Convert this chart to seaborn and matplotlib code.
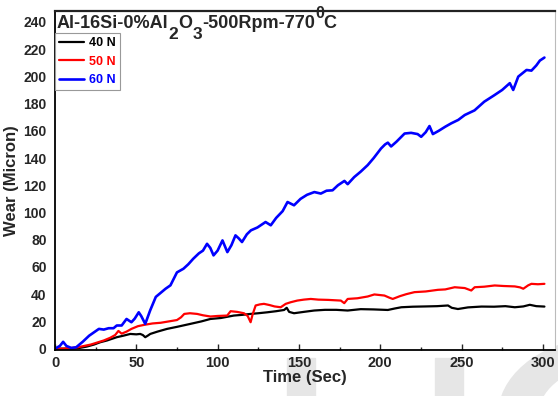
import numpy as np
import pandas as pd
import seaborn as sns
import matplotlib.pyplot as plt
from matplotlib.patches import Rectangle, Wedge
from matplotlib.ticker import MultipleLocator

# Wear curves (time in sec, wear in micron)
t_40 = [0, 5, 11, 15, 19.5, 24, 27.8, 32, 38, 42, 46.3, 50, 52.4, 54, 55.5,
        57, 58.6, 63, 68.9, 75, 83.3, 90, 95.6, 102, 110, 115, 120.3, 125, 130.6, 136,
        140.9, 142.5, 144, 147, 153, 159.4, 166, 173, 180, 188, 196, 204.7, 209, 213, 220,
        228, 235, 241.7, 244, 247.8, 254, 262.3, 270, 277, 282.8, 288, 292, 296, 301]
w_40 = [0, 0, 0, 0.5, 1.5, 3, 4.7, 6, 8.4, 9.5, 10.8, 10.5, 10.8, 10, 8.4,
        9.5, 10.8, 12.5, 14.5, 16, 18.2, 20, 21.8, 22.5, 24.3, 24.8, 25.5, 26, 26.7, 27.5,
        28.4, 30, 27, 26, 27, 28, 28.5, 28.5, 28, 29, 28.8, 28.4, 29.5, 30.4, 30.8,
        31, 31.2, 31.7, 30, 29.1, 30.3, 30.9, 30.8, 31.2, 30.4, 31, 32.2, 31.2, 30.9]

t_50 = [0, 5, 10, 14, 18, 22, 26, 30, 34, 37, 39, 41, 44, 47, 51,
        55, 60, 65, 70, 75, 77.5, 79.5, 83, 87.4, 91, 95.6, 100, 105.9, 108, 112,
        116.2, 118.5, 120.3, 121.5, 123.4, 126, 128.5, 132, 135, 138.8,
        141.9, 145, 149, 153, 157.3, 162, 168, 175.8, 177.9, 180,
        186, 192.3, 196.4, 202.6, 205.5, 207.7, 212, 216, 221.1, 228,
        235.5, 240, 245.8, 252, 256, 258.1, 264, 270.4, 276, 282.8,
        286, 288, 291, 293, 297, 301]
w_50 = [0, 0, 0.5, 1, 2, 3, 4.5, 6, 8, 10, 13, 11, 12.5, 14.5, 16.5,
        17.5, 18.5, 19, 20, 21, 23, 25.5, 26, 25.5, 24.5, 23.6, 24, 24.3, 27.5, 27,
        26, 24, 19.4, 25, 31.7, 32.5, 32.9, 32, 31, 30.4,
        32.9, 34.1, 35.3, 36, 36.5, 36, 35.8, 35.3, 33.4, 36.5,
        37, 38.3, 39.8, 39, 37.5, 36.5, 38.5, 40, 41.5, 42,
        43.2, 43.5, 45.1, 44.5, 42.7, 45.1, 45.5, 46.4, 46, 45.7,
        45, 44, 46.5, 47.6, 47.3, 47.6]

t_60 = [0, 3, 5, 7, 10, 13, 17, 21, 24, 27, 30, 33, 36, 38, 41,
        44, 47, 49, 51.5, 53, 55.5, 58.5, 62, 65, 68, 71, 75, 79, 82, 85,
        88.5, 91, 93.5, 95.5, 97.5, 100, 103, 106, 108.5, 111, 113, 115, 118, 120.5, 124.5,
        129.5, 132.7, 136, 140, 143, 147, 151, 155, 159.5, 163.5, 167, 170.7, 174, 178, 180,
        184, 188, 192.3, 196, 200.5, 203, 204.7, 206.7, 210, 215, 219, 223, 225.2, 228, 230.3,
        232.4, 236, 240, 243.7, 248, 252, 258, 264, 270, 275, 279.7, 281.8, 284.9, 290, 293,
        296, 298.2, 301]
w_60 = [0, 2, 5, 2, 0.5, 1, 5, 9.5, 12, 14.5, 14, 15, 15, 17, 17,
        21.8, 19.4, 22, 26.7, 24, 18.2, 28, 38, 41, 44, 46.5, 56, 58.7, 62, 66,
        70, 72, 77, 74, 68.5, 72, 79.5, 70.9, 76, 83.2, 81, 78.3, 84, 86.9, 89,
        93, 90.6, 96, 101, 107.7, 105.3, 110, 113, 115, 113.9, 116, 116.3, 120, 123.2, 120.8,
        126, 130, 134.8, 140, 147, 150, 151.3, 148.5, 152, 158, 158.5, 157.6, 155.6, 159, 163.5,
        157.6, 160, 163, 165.5, 168, 171.6, 175, 181.4, 186, 190, 195, 190, 199.8, 204.7, 204.2,
        208, 211.6, 213.8]

loads = ['40 N', '50 N', '60 N']
colors = ['black', '#ff0000', '#0000ff']
widths = [1.6, 1.6, 1.9]
series = [(t_40, w_40), (t_50, w_50), (t_60, w_60)]

sns.set_style('ticks')
plt.rcParams['font.family'] = ['Liberation Sans', 'DejaVu Sans']
plt.rcParams['font.weight'] = 'bold'

fig = plt.figure(figsize=(5.58, 3.96), dpi=100)

# light grey watermark behind everything
fig.patches.append(Rectangle((287 / 558, 0), 28 / 558, 38 / 396, transform=fig.transFigure,
                             color='#e6e6e6', zorder=-5))
fig.patches.append(Rectangle((435 / 558, 0), 28 / 558, 38 / 396, transform=fig.transFigure,
                             color='#e6e6e6', zorder=-5))
fig.patches.append(Wedge((610 / 558, -0.05), 0.2, 95, 175, width=0.07,
                         transform=fig.transFigure, color='#e6e6e6', zorder=-5))

ax = fig.add_axes([55 / 558, 1 - 350 / 396, 500 / 558, 339 / 396])

for (t, w), lab, c, lw in zip(series, loads, colors, widths):
    sns.lineplot(x=t, y=w, color=c, linewidth=lw, label=lab, sort=False,
                 estimator=None, ax=ax)

ax.set_xlim(0, 307.5)
ax.set_ylim(-1, 248)
ax.set_xticks(range(0, 301, 50))
ax.xaxis.set_minor_locator(MultipleLocator(25))
ax.set_yticks(range(0, 241, 20))
ax.tick_params(axis='x', which='major', direction='in', length=4, width=1, labelsize=10.5, pad=4)
ax.tick_params(axis='x', which='minor', direction='in', length=2.5, width=1)
ax.tick_params(axis='y', length=0, labelsize=10, pad=6)
for lab in ax.get_xticklabels() + ax.get_yticklabels():
    lab.set_fontweight('bold')

ax.set_xlabel('Time (Sec)', fontsize=12, fontweight='bold', labelpad=0)
ax.set_ylabel('Wear (Micron)', fontsize=12, fontweight='bold', labelpad=3)

for s in ['left', 'bottom']:
    ax.spines[s].set_linewidth(1.3)
    ax.spines[s].set_color('black')
ax.spines['top'].set_linewidth(1.6)
ax.spines['top'].set_color('#222222')
ax.spines['right'].set_linewidth(0.8)
ax.spines['right'].set_color('#bbbbbb')

# title written piece by piece so the sub/superscripts keep nearly full size
pieces = [('Al-16Si-0%Al', 0, 13), ('2', -11, 12.5), ('O', 0, 13), ('3', -11, 12.5),
          ('-500Rpm-770', 0, 13), ('0', 10, 11.5), ('C', 0, 13)]
fig.canvas.draw()
renderer = fig.canvas.get_renderer()
x_px = 57
base_px = 396 - 28
for txt, dy, size in pieces:
    tt = fig.text(x_px / 558, (base_px + dy) / 396, txt, fontsize=size, fontweight='bold',
                  ha='left', va='baseline')
    x_px = tt.get_window_extent(renderer).x1

leg = ax.legend(loc='upper left', bbox_to_anchor=(0.0, 0.935), frameon=True, fancybox=False,
                edgecolor='#999999', framealpha=1, handlelength=2.0, handletextpad=0.35,
                borderaxespad=0, borderpad=0.35, labelspacing=0.5, labelcolor='linecolor',
                prop={'weight': 'bold', 'size': 9})
leg.get_frame().set_linewidth(0.8)

fig.savefig('out.png', dpi=100)
